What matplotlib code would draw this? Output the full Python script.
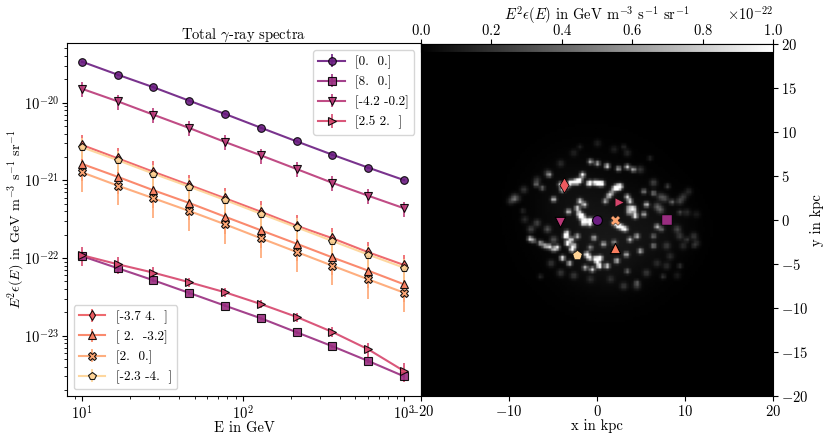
import numpy as np
import matplotlib
matplotlib.use("Agg")
import matplotlib.pyplot as plt

plt.rcParams['font.family'] = ['cmr10', 'DejaVu Sans']
plt.rcParams['mathtext.fontset'] = 'cm'
plt.rcParams['axes.formatter.use_mathtext'] = True
plt.rcParams['axes.unicode_minus'] = False
plt.rcParams['font.size'] = 10.5

energy = [10.0, 16.7, 27.8, 46.4, 77.4, 129.2, 215.4, 359.4, 599.5, 1000.0]

labels = ['[0.  0.]', '[8.  0.]', '[-4.2 -0.2]', '[2.5 2.  ]',
          '[-3.7 4.  ]', '[ 2.  -3.2]', '[2.  0.]', '[-2.3 -4.  ]']
pos_x = [0.0, 8.0, -4.2, 2.5, -3.7, 2.0, 2.0, -2.3]
pos_y = [0.0, 0.0, -0.2, 2.0, 4.0, -3.2, 0.0, -4.0]
markers = ['o', 's', 'v', '>', 'd', '^', 'X', 'p']
map_sizes = [50, 50, 55, 38, 60, 55, 50, 50]
map_edges = [0.8, 0.3, 0.8, 0.2, 0.6, 0.8, 0.3, 0.3]

s0 = [3.37e-20, 2.29e-20, 1.58e-20, 1.06e-20, 7.16e-21, 4.76e-21, 3.18e-21, 2.14e-21, 1.46e-21, 1.01e-21]
s1 = [1.06e-22, 7.40e-23, 5.18e-23, 3.56e-23, 2.44e-23, 1.68e-23, 1.11e-23, 7.33e-24, 4.74e-24, 3.01e-24]
s2 = [1.51e-20, 1.04e-20, 7.00e-21, 4.72e-21, 3.12e-21, 2.10e-21, 1.40e-21, 9.30e-22, 6.35e-22, 4.38e-22]
s3 = [1.09e-22, 8.32e-23, 6.49e-23, 4.89e-23, 3.63e-23, 2.56e-23, 1.75e-23, 1.12e-23, 6.70e-24, 3.52e-24]
s4 = [2.86e-21, 1.92e-21, 1.29e-21, 8.73e-22, 5.89e-22, 3.95e-22, 2.61e-22, 1.80e-22, 1.19e-22, 8.15e-23]
s5 = [1.63e-21, 1.11e-21, 7.46e-22, 5.12e-22, 3.41e-22, 2.28e-22, 1.53e-22, 1.02e-22, 6.89e-23, 4.60e-23]
s6 = [1.27e-21, 8.55e-22, 5.89e-22, 4.04e-22, 2.72e-22, 1.80e-22, 1.20e-22, 7.98e-23, 5.33e-23, 3.59e-23]
s7 = [2.67e-21, 1.82e-21, 1.22e-21, 8.30e-22, 5.60e-22, 3.72e-22, 2.49e-22, 1.66e-22, 1.11e-22, 7.52e-23]
spectra = [s0, s1, s2, s3, s4, s5, s6, s7]

# relative error bars
e0 = [.03, .03, .03, .03, .03, .03, .03, .03, .03, .03]
e1 = [.06, .06, .05, .05, .05, .05, .05, .05, .06, .06]
e2 = [.22, .22, .22, .22, .22, .22, .22, .22, .22, .22]
e3 = [.28, .24, .18, .14, .13, .12, .13, .15, .20, .28]
e4 = [.36, .36, .36, .36, .36, .36, .36, .36, .36, .36]
e5 = [.40, .40, .40, .40, .40, .40, .40, .40, .40, .40]
e6 = [.44, .44, .44, .44, .44, .44, .44, .44, .44, .44]
e7 = [.30, .30, .30, .30, .30, .30, .30, .30, .30, .30]
errors = [e0, e1, e2, e3, e4, e5, e6, e7]

# bright patches of the map, read by eye (kpc, kpc, brightness in 1e-22)
spot_x = [-1.9, -1.4, -0.8, -1.6, -2.1, -0.2, -2.0, -1.5, -2.3, -3.3,
          -3.1, -2.3, -1.7, -0.2, 0.5, -0.8, -4.0, -4.2, 0.0, 1.1,
          -0.8, 2.4, 3.4, 4.1, 2.2, 2.6, 1.9, 1.3, 0.9, 3.4,
          3.7, 4.1, 4.3, 3.6, 5.3, 6.4, 5.6, 5.3, 6.8, 4.5,
          3.7, -5.5, -6.3, -7.0, -9.5, -5.0, -7.7, -6.5, -5.5, -4.6,
          -3.6, -3.4, -2.9, -4.0, -3.2, -1.2, -0.2, 0.3, 0.2, -0.6,
          -1.4, 1.1, 2.2, 3.3, 4.9, 6.4, -2.3, -0.4, 0.7, 2.6,
          1.9, 3.2, -0.8, 1.9, 3.4, 4.5, 8.5, 7.3, 6.4, 9.4,
          10.2, 8.0, 9.4, 3.0, -2.0, 6.0, 7.5, 11.0, -6.5, -8.5,
          -2.6, -2.0, -1.0, 0.2, -3.5, -2.7, -3.0, -3.5, -0.9, 0.0,
          -0.9, -1.7, 2.3, 2.9, 3.6, 4.2, -6.0, -5.0, -7.3, 2.4, 1.6]
spot_y = [0.3, -0.1, -0.1, -0.4, 0.7, -0.1, 2.1, 1.7, 1.3, 0.9,
          4.2, 4.3, 5.1, 4.2, 4.1, 4.2, 3.4, 4.0, 6.4, 6.1,
          6.6, 5.8, 6.0, 5.7, 3.7, 3.8, 3.5, 2.7, 2.1, 2.6,
          2.1, 1.3, 0.4, 1.3, 3.2, 3.0, 1.7, 0.6, -0.8, -1.9,
          -2.3, 5.1, 3.6, 4.0, 2.3, 2.3, -2.2, -2.7, -3.1, -3.2,
          -1.9, -2.7, -3.4, -4.4, -5.0, -4.0, -4.5, -4.4, -5.3, -5.7,
          -5.5, -5.3, -4.7, -4.0, -3.6, -3.0, -1.9, -2.1, -2.8, -0.8,
          -0.4, -1.1, -3.2, -2.6, -5.9, -7.2, 2.0, -1.1, -1.9, 0.8,
          -2.3, 3.8, -5.3, 8.3, 8.3, 7.0, -6.5, -3.0, -6.5, 1.0,
          4.3, 4.5, 4.1, 4.1, 3.8, -3.0, -2.3, -1.5, -4.4, -4.8,
          -0.5, 0.4, -0.7, -1.0, 0.8, 0.9, -3.0, -3.4, -2.4, 3.6, 3.0]
spot_b = [1.3, 1.3, 1.3, 1.1, 1.0, 1.1, .9, .8, .9, .8,
          1.2, 1.2, 1.0, 1.2, 1.2, .8, .9, .8, .7, .9,
          .7, .7, .8, .7, 1.2, 1.1, .8, .8, .7, .8,
          .9, 1.0, 1.0, .8, .5, .5, .8, .7, .7, .7,
          .7, .5, .4, .4, .25, .8, .8, .7, .9, .9,
          1.3, 1.3, 1.2, 1.0, .8, 1.3, 1.3, 1.2, 1.2, .8,
          .7, .9, .8, .7, .7, .5, .7, .7, .7, 1.0,
          .9, .8, .5, .5, .4, .3, .4, .4, .4, .25,
          .2, .25, .2, .15, .12, .15, .2, .15, .15, .15,
          .9, .9, .8, .9, .8, .9, .9, .8, .9, .9,
          .9, .8, .8, .7, .7, .6, .7, .7, .5, .8, .6]

# faint streaks further out
faint_x = [9.4, 9.8, 10.4, 11.0, 11.3, 9.1, 9.4, 9.8, 7.9, 8.3, 10.2, 11.3, 7.2, 7.2, 7.7,
           6.8, 6.4, 4.9, 3.4, 1.9, 0.0, -2.7, -4.2, -5.7, -6.9, -8.4, -9.5, -9.9, -9.1,
           -7.6, -8.3, -6.9, -5.7, -5.0, -5.3, -4.2, -2.7, -0.8, 1.5, 3.0, 4.5, 5.6, 6.8, 7.9, 9.1]
faint_y = [2.1, 2.6, 3.2, -1.9, -2.7, -1.1, -1.9, -3.0, -3.0, -4.2, 0.8, 0.6, 1.1, 2.6, 2.4,
           1.5, 4.2, 5.7, 7.6, 8.0, 8.7, 7.6, 6.4, 5.3, 4.5, 3.4, 2.6, 2.1, 2.4,
           -1.1, 0.0, -0.4, -1.1, -2.3, -5.0, -6.1, -6.4, -6.8, -6.8, -7.6, -7.6, -6.1, -5.0, -5.3, -6.4]
faint_b = [.25, .2, .15, .2, .15, .25, .2, .15, .2, .15, .15, .1, .3, .25, .25,
           .3, .25, .2, .15, .12, .12, .12, .15, .2, .2, .2, .2, .2, .15,
           .25, .15, .25, .3, .3, .2, .2, .2, .15, .15, .2, .2, .2, .15, .15, .1]

# faint wide glow under the bright patches
glow_x = [0.0, -3.0, 3.5, 0.5, 7.5]
glow_y = [0.0, 2.5, -2.5, -4.0, -1.0]
glow_w = [5.0, 3.0, 3.5, 3.0, 2.5]
glow_b = [.04, .03, .03, .035, .03]

cmap_vals = plt.cm.magma([.32, .43, .51, .58, .65, .73, .81, .91])

fig = plt.figure(figsize=(8.3, 4.4), dpi=100)
ax = fig.add_axes([67/830, 44/440, 354/830, 352.5/440])
ax2 = fig.add_axes([421/830, 44/440, 352/830, 352/440])
cax = fig.add_axes([421/830, 388/440, 352/830, 8/440])

handles = []
for i in range(8):
    y = np.array(spectra[i])
    h = ax.errorbar(energy, spectra[i], yerr=y*np.array(errors[i]), color=cmap_vals[i],
                    marker=markers[i], ms=5.5, mec='k', mew=0.8, lw=1.5, alpha=0.9,
                    elinewidth=1.3, label=labels[i])
    handles.append(h)

ax.set_xscale('log')
ax.set_yscale('log')
ax.set_xlim(8.07, 1276)
ax.set_ylim(10**-23.775, 10**-19.238)
ax.tick_params(axis='x', pad=2.5)
ax.tick_params(axis='y', pad=2.5)
ax.set_xlabel('E in GeV', labelpad=-1)
ax.set_ylabel(r'$E^2\epsilon(E)$ in GeV m$^{-3}$ s$^{-1}$ sr$^{-1}$', labelpad=-2, fontsize=10.2)
ax.set_title(r'Total $\gamma$-ray spectra', fontsize=10.5, pad=3)

leg1 = ax.legend(handles[:4], labels[:4], loc='upper right', fontsize=9.5)
ax.add_artist(leg1)
ax.legend(handles[4:], labels[4:], loc='lower left', fontsize=9.5)

# build the map on a grid from the spots read above
xx = np.linspace(-20, 20, 141)
gx, gy = np.meshgrid(xx, xx)
img = np.zeros_like(gx)
for x0, y0, b in zip(spot_x, spot_y, spot_b):
    img += b*np.exp(-((gx-x0)**2 + (gy-y0)**2)/(2*0.2**2))
for x0, y0, b in zip(faint_x, faint_y, faint_b):
    img += b*np.exp(-((gx-x0)**2 + (gy-y0)**2)/(2*0.28**2))
for x0, y0, w, b in zip(glow_x, glow_y, glow_w, glow_b):
    img += b*np.exp(-((gx-x0)**2 + (gy-y0)**2)/(2*w**2))

im = ax2.imshow(img*1e-22, origin='lower', extent=[-20, 20, -20, 20], cmap='gray',
                vmin=0, vmax=1e-22, aspect='auto')
for i in range(8):
    ax2.scatter(pos_x[i], pos_y[i], color=cmap_vals[i], marker=markers[i], s=map_sizes[i],
                edgecolors='k', linewidths=map_edges[i], zorder=3)
ax2.set_xlim(-20, 20)
ax2.set_ylim(-20, 20)
ax2.set_xticks([-20, -10, 0, 10, 20])
ax2.set_yticks(np.arange(-20, 21, 5))
ax2.yaxis.tick_right()
ax2.yaxis.set_label_position('right')
ax2.tick_params(axis='x', pad=2.5)
ax2.tick_params(axis='y', pad=2.5)
ax2.set_xlabel('x in kpc', labelpad=0)
ax2.set_ylabel('y in kpc', labelpad=1)

cb = fig.colorbar(im, cax=cax, orientation='horizontal')
cax.xaxis.set_ticks_position('top')
cax.xaxis.set_label_position('top')
cb.set_ticks([0, .2e-22, .4e-22, .6e-22, .8e-22, 1e-22])
cax.tick_params(axis='x', pad=0.5)
cax.xaxis.OFFSETTEXTPAD = 0
cb.set_label(r'$E^2\epsilon(E)$ in GeV m$^{-3}$ s$^{-1}$ sr$^{-1}$', labelpad=3)

fig.savefig('out.png', dpi=100)
